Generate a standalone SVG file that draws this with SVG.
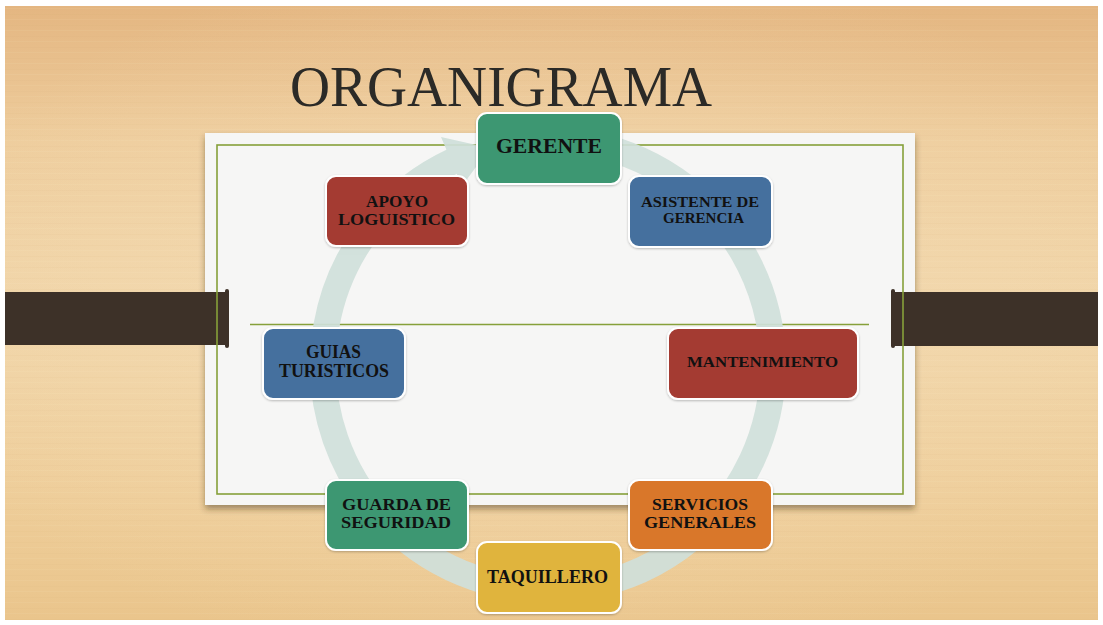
<svg xmlns="http://www.w3.org/2000/svg" width="1103" height="625" viewBox="0 0 1103 625">
<defs>
<linearGradient id="wood" x1="0" y1="0" x2="0" y2="1">
<stop offset="0" stop-color="#e4b681"/>
<stop offset="0.22" stop-color="#eecd9d"/>
<stop offset="0.5" stop-color="#f1d6aa"/>
<stop offset="0.8" stop-color="#eecd99"/>
<stop offset="1" stop-color="#eac58c"/>
</linearGradient>
<radialGradient id="glow" cx="0.5" cy="0.5" r="0.6">
<stop offset="0" stop-color="#f6e0bb" stop-opacity="0.5"/>
<stop offset="1" stop-color="#f6e0bb" stop-opacity="0"/>
</radialGradient>
<pattern id="grain" width="53" height="11" patternUnits="userSpaceOnUse">
<rect x="0" y="3" width="53" height="1" fill="#c89a5e" opacity="0.05"/>
<rect x="0" y="8" width="53" height="1" fill="#fff4dc" opacity="0.06"/>
</pattern>
<filter id="paperShadow" x="-5%" y="-5%" width="110%" height="115%">
<feDropShadow dx="0" dy="4" stdDeviation="3" flood-color="#3a2a14" flood-opacity="0.45"/>
</filter>
<filter id="boxShadow" x="-10%" y="-10%" width="120%" height="130%">
<feDropShadow dx="0" dy="1" stdDeviation="1.2" flood-color="#000" flood-opacity="0.25"/>
</filter>
<style>
.node rect{stroke:#ffffff;stroke-width:2;filter:url(#boxShadow)}
.lbl{font-family:"Liberation Serif","DejaVu Serif",serif;font-weight:bold;fill:#111;text-anchor:middle}
.green{fill:#3d9772}.blue{fill:#44709e}.red{fill:#a43a31}.orange{fill:#d9772a}.yellow{fill:#e0b43e}
.olive{stroke:#86a03a;stroke-width:1.6;fill:none}
.bar{fill:#3d3128}
</style>
</defs>
<rect width="1103" height="625" fill="#ffffff"/>
<rect x="5" y="6" width="1093" height="614" fill="url(#wood)"/>
<rect x="5" y="6" width="1093" height="614" fill="url(#glow)"/>
<rect x="5" y="6" width="1093" height="614" fill="url(#grain)"/>

<text x="290" y="106" font-family="'Liberation Serif','DejaVu Serif',serif" font-size="56" fill="#2b2a27" textLength="422" lengthAdjust="spacingAndGlyphs">ORGANIGRAMA</text>

<!-- paper -->
<rect x="205" y="133" width="710" height="372" fill="#f6f6f5" filter="url(#paperShadow)"/>

<!-- bars -->
<rect class="bar" x="5" y="292" width="223" height="53"/>
<rect class="bar" x="225" y="289" width="4" height="59" rx="2"/>
<rect class="bar" x="892" y="292" width="206" height="54"/>
<rect class="bar" x="891" y="289" width="4" height="59" rx="2"/>

<rect class="olive" x="217" y="145" width="686" height="349"/>
<line class="olive" x1="250" y1="324.5" x2="869" y2="324.5"/>

<!-- connectors: cycle arrow -->
<g id="connectors" fill="#cfe0da" opacity="0.92">
<path d="M 567.6 140.9 A 225 225 0 1 1 452.9 161.1" fill="none" stroke="#cfe0da" stroke-width="26"/>
<polygon points="441,137 490,148 462,186"/>
</g>

<g id="n-gerente" class="node"><rect class="green" x="477" y="113" width="144" height="71" rx="10"/>
<text class="lbl" x="549" y="153" font-size="20" textLength="106" lengthAdjust="spacingAndGlyphs">GERENTE</text></g>

<g id="n-asistente" class="node"><rect class="blue" x="629" y="176" width="143" height="71" rx="10"/>
<text class="lbl" x="700" y="207" font-size="15.5" textLength="118" lengthAdjust="spacingAndGlyphs">ASISTENTE DE</text>
<text class="lbl" x="703.5" y="223" font-size="15.5" textLength="81" lengthAdjust="spacingAndGlyphs">GERENCIA</text></g>

<g id="n-apoyo" class="node"><rect class="red" x="326" y="176" width="142" height="70" rx="10"/>
<text class="lbl" x="397" y="207" font-size="17" textLength="62" lengthAdjust="spacingAndGlyphs">APOYO</text>
<text class="lbl" x="396.5" y="225" font-size="17" textLength="117" lengthAdjust="spacingAndGlyphs">LOGUISTICO</text></g>

<g id="n-guias" class="node"><rect class="blue" x="263" y="328" width="142" height="71" rx="10"/>
<text class="lbl" x="333.5" y="358" font-size="19" textLength="55" lengthAdjust="spacingAndGlyphs">GUIAS</text>
<text class="lbl" x="334" y="377" font-size="19" textLength="110" lengthAdjust="spacingAndGlyphs">TURISTICOS</text></g>

<g id="n-mantenimiento" class="node"><rect class="red" x="668" y="328" width="190" height="71" rx="10"/>
<text class="lbl" x="762.5" y="367" font-size="15.5" textLength="151" lengthAdjust="spacingAndGlyphs">MANTENIMIENTO</text></g>

<g id="n-guarda" class="node"><rect class="green" x="326" y="480" width="142" height="70" rx="10"/>
<text class="lbl" x="396.5" y="510" font-size="17" textLength="109" lengthAdjust="spacingAndGlyphs">GUARDA DE</text>
<text class="lbl" x="396" y="528" font-size="17" textLength="110" lengthAdjust="spacingAndGlyphs">SEGURIDAD</text></g>

<g id="n-servicios" class="node"><rect class="orange" x="629" y="480" width="143" height="70" rx="10"/>
<text class="lbl" x="700" y="510" font-size="17" textLength="96" lengthAdjust="spacingAndGlyphs">SERVICIOS</text>
<text class="lbl" x="700" y="528" font-size="17" textLength="112" lengthAdjust="spacingAndGlyphs">GENERALES</text></g>

<g id="n-taquillero" class="node"><rect class="yellow" x="477" y="542" width="144" height="71" rx="10"/>
<text class="lbl" x="547.5" y="583" font-size="18" textLength="121" lengthAdjust="spacingAndGlyphs">TAQUILLERO</text></g>
</svg>
